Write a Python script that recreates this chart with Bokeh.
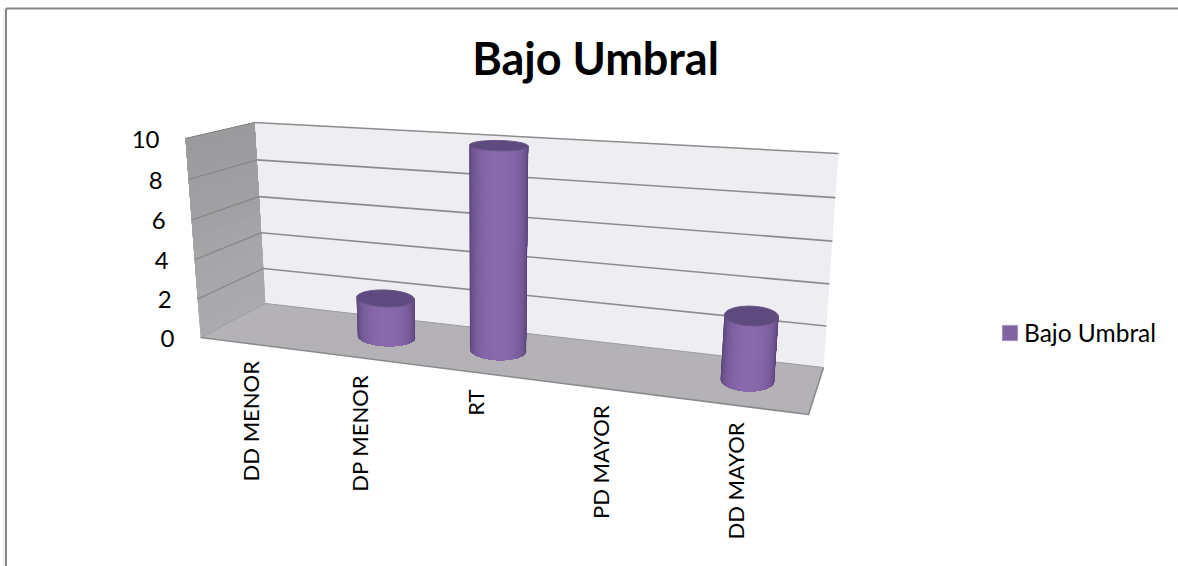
import numpy as np
from bokeh.plotting import figure
from bokeh.models import Range1d, Legend, LegendItem
from bokeh.core.properties import value
from bokeh.embed import file_html
from bokeh.resources import INLINE

# --- data ---
chart_title = "Bajo Umbral"
series_name = "Bajo Umbral"
categories = ["DD MENOR", "DP MENOR", "RT", "PD MAYOR", "DD MAYOR"]
series_values = [0, 2, 10, 0, 3]
value_ticks = [0, 2, 4, 6, 8, 10]

# --- layout / style ---
W, H = 1178, 566
PAD = 8
FONT = "Lato"
V_MAX = 10
# scene box corners on screen: (category end, value end, depth end)
C = {
    (0, 0, 0): (200, 337), (1, 0, 0): (808, 414),
    (0, 1, 0): (185, 138), (1, 1, 0): (828, 179),
    (0, 0, 1): (265, 303), (1, 0, 1): (823, 367),
    (0, 1, 1): (254, 122), (1, 1, 1): (838, 153),
}
K_U, K_V = 1.2, 1.04
R_T, R_W = 0.044, 0.25
TILT = 0.35
DEPTH_Y = 0.56


def warp(a, k):
    return a / (a + k * (1 - a))


def box(t, s, w):
    """Trilinear map of box coordinates to screen pixels."""
    t, s, w = np.asarray(t, float), np.asarray(s, float), np.asarray(w, float)
    x = y = 0
    for (a, b, c), (px, py) in C.items():
        f = (t if a else 1 - t) * (s if b else 1 - s) * (w if c else 1 - w)
        x = x + f * px
        y = y + f * py
    return x, y


def vs(v):
    return warp(np.asarray(v, float) / V_MAX, K_V)


def cat_t(i):
    return warp((i + 0.5) / len(categories), K_U)


def mix(c0, c1, f):
    return "#%02x%02x%02x" % tuple(int(round(a + (b - a) * f)) for a, b in zip(c0, c1))


def ring(t0, s, th):
    """A cylinder's cross-section at height s: an ellipse slightly following the floor's slope."""
    cx, _ = box(t0, s, 0.5)
    _, cy = box(t0, s, DEPTH_Y)
    rx, ry = box(t0 + R_T, s, DEPTH_Y)
    _, dy = box(t0, s, DEPTH_Y + R_W)
    return (cx + np.cos(th) * (rx - cx),
            cy + TILT * np.cos(th) * (ry - cy) + np.sin(th) * (dy - cy))


p = figure(width=W + PAD, height=H + PAD, x_range=Range1d(-PAD, W), y_range=Range1d(H, -PAD),
           x_axis_type=None, y_axis_type=None, toolbar_location=None,
           output_backend="svg", min_border=0, outline_line_color=None,
           margin=(-PAD, 0, 0, -PAD))
p.grid.visible = False

# chart frame
p.segment([5.5, 5.5], [8, 8], [5.5, W], [H, 8], line_color="#868686", line_width=2)
p.segment([3.5], [8], [3.5], [H], line_color="#e2e2e2", line_width=1)


def face(corners, color):
    xs, ys = box(*np.array(corners, float).T)
    p.patch(xs, ys, fill_color=color, line_color=None)


# walls and floor
face([(0, 0, 1), (1, 0, 1), (1, 1, 1), (0, 1, 1)], "#eeedf2")
face([(0, 0, 0), (1, 0, 0), (1, 0, 1), (0, 0, 1)], "#b4b2b7")
for n in range(16):  # left wall, shaded from bottom to top, painted in overlapping bands
    a = n / 16
    face([(0, a, 0), (0, a, 1), (0, 1, 1), (0, 1, 0)], mix((0xab, 0xab, 0xae), (0x9a, 0x9a, 0x9d), a))

# floor edges
xs, ys = box([0, 1, 1], [0, 0, 0], [0, 0, 1])
p.line(xs, ys, line_color="#8a8a8a", line_width=1.6)
xs, ys = box([0, 0, 1], [0, 0, 0], [0, 1, 1])
p.line(xs, ys, line_color="#9c9c9e", line_width=1)

# gridlines on the back wall and on the left wall
for v in value_ticks[1:]:
    s = vs(v)
    xs, ys = box([0, 1], [s, s], [1, 1])
    p.line(xs, ys, line_color="#8c8c8c", line_width=1.6)
    xs, ys = box([0, 0], [s, s], [1, 0])
    p.line(xs, ys, line_color="#858587", line_width=1.1)

# cylinders (screen y grows downward, so the front of each ring is at sin(th) < 0 in depth)
DARK, LIGHT = (0x50, 0x3c, 0x6e), (0x8a, 0x6a, 0xae)
N = 40
for i, val in enumerate(series_values):
    if val <= 0:
        continue
    t0, s1 = cat_t(i), float(vs(val))
    th = np.linspace(np.pi - 0.1, 2 * np.pi + 0.1, N + 1)
    bx, by = ring(t0, 0.0, th)
    tx, ty = ring(t0, s1, th)
    for j in range(N):  # each band reaches the far edge, so the next one paints over it
        mid = (th[j] + th[j + 1]) / 2
        f = np.clip(-np.sin(mid), 0, 1) ** 0.8
        p.patch(np.r_[bx[j:], tx[j:][::-1]], np.r_[by[j:], ty[j:][::-1]],
                fill_color=mix(DARK, LIGHT, f), line_color=None)
    ex, ey = ring(t0, s1, np.linspace(0, 2 * np.pi, 73))
    p.patch(ex, ey, fill_color="#5e4a7e", line_color="#6a5488", line_width=1)

# value axis labels follow the front edge of the left wall
xs, ys = box(0 * np.array(value_ticks), vs(value_ticks), 0 * np.array(value_ticks))
p.text(xs - 26, ys + 1, text=[str(v) for v in value_ticks], text_font=value(FONT),
       text_font_size="24px", text_color="#000000", text_align="right", text_baseline="middle")

# category labels hang below the front edge of the floor
ts = np.array([cat_t(i) for i in range(len(categories))])
xs, ys = box(ts, 0 * ts, 0 * ts)
p.text(xs - 1.5, ys + 17, text=categories, angle=np.pi / 2, text_font=value(FONT),
       text_font_size="22px", text_color="#000000", text_align="right", text_baseline="middle")

# title
p.text([595], [57], text=[chart_title], text_font=value(FONT), text_font_style="bold",
       text_font_size="45px", text_color="#000000", text_align="center", text_baseline="middle")

# legend: the swatch renderer sits outside the visible range, only its key is seen
swatch = p.quad(left=[-60], right=[-50], top=[-60], bottom=[-50], fill_color="#8064a2", line_color="#a394bb")
legend = Legend(items=[LegendItem(label=series_name, renderers=[swatch])], location=(1008, 219),
                border_line_color=None, background_fill_alpha=0, glyph_width=19, glyph_height=19,
                label_text_font=FONT, label_text_font_size="24.5px", label_text_color="#000000",
                margin=0, padding=0, label_standoff=5)
p.add_layout(legend, "center")

open("out.html", "w").write(file_html(p, INLINE))
